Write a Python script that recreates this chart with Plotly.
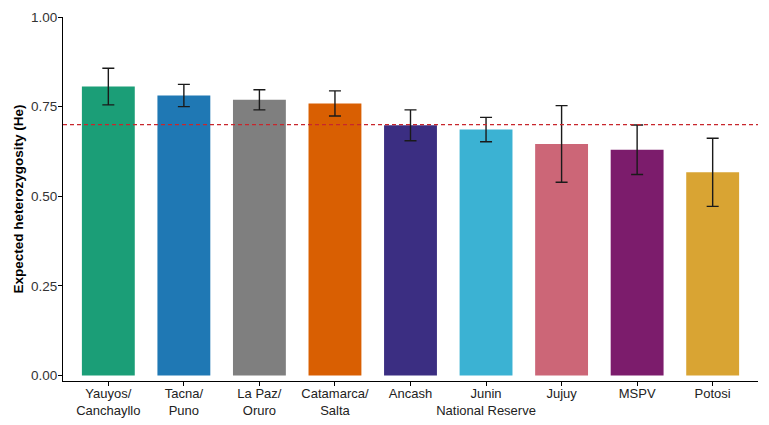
import plotly.graph_objects as go

categories = ["Yauyos/<br>Canchayllo", "Tacna/<br>Puno", "La Paz/<br>Oruro", "Catamarca/<br>Salta",
              "Ancash", "Junin<br>National Reserve", "Jujuy", "MSPV", "Potosi"]
he_values = [0.806, 0.781, 0.769, 0.759, 0.698, 0.686, 0.646, 0.630, 0.567]
he_errors = [0.051, 0.031, 0.028, 0.035, 0.043, 0.034, 0.107, 0.069, 0.095]
bar_colors = ["#1B9E77", "#1F78B4", "#7F7F7F", "#D95F02", "#3B2E82",
              "#3BB2D3", "#CC6677", "#7C1C6C", "#D9A433"]
threshold = 0.70
y_ticks = [0.0, 0.25, 0.5, 0.75, 1.0]

fig = go.Figure()
fig.add_trace(go.Bar(
    x=list(range(len(categories))),
    y=he_values,
    marker=dict(color=bar_colors, line=dict(width=0)),
    width=0.7,
    error_y=dict(type="data", array=he_errors, visible=True,
                 color="#1a1a1a", thickness=1.4, width=6),
    showlegend=False,
))

fig.add_shape(type="line", xref="paper", yref="y", x0=0, x1=1,
              y0=threshold, y1=threshold,
              line=dict(color="#C8262C", width=1.4, dash="4px,3px"))

fig.update_layout(
    width=769, height=425,
    margin=dict(l=63, r=11, t=17, b=44),
    plot_bgcolor="white", paper_bgcolor="white",
    font=dict(family="Liberation Sans, Arial, sans-serif", size=13, color="#333333"),
)
fig.update_xaxes(
    tickmode="array", tickvals=list(range(len(categories))), ticktext=categories,
    range=[-0.6, len(categories) - 0.4],
    showline=True, linecolor="black", linewidth=1.2,
    ticks="outside", ticklen=4, tickcolor="black",
    showgrid=False, zeroline=False, automargin=False,
    ticklabelstandoff=-4,
    tickfont=dict(size=13, color="#222222"),
)
fig.update_yaxes(
    range=[-0.015, 1.0],
    tickmode="array", tickvals=y_ticks, ticktext=[f"{v:.2f}" for v in y_ticks],
    showline=True, linecolor="black", linewidth=1.2,
    ticks="outside", ticklen=4, tickcolor="black",
    showgrid=False, zeroline=False, automargin=False,
    ticklabelstandoff=-2,
    tickfont=dict(size=13.5, color="#333333"),
    title=dict(text="<b>Expected heterozygosity (He)</b>", font=dict(size=13.5, color="black"), standoff=4),
)

fig.write_html("out.html")
